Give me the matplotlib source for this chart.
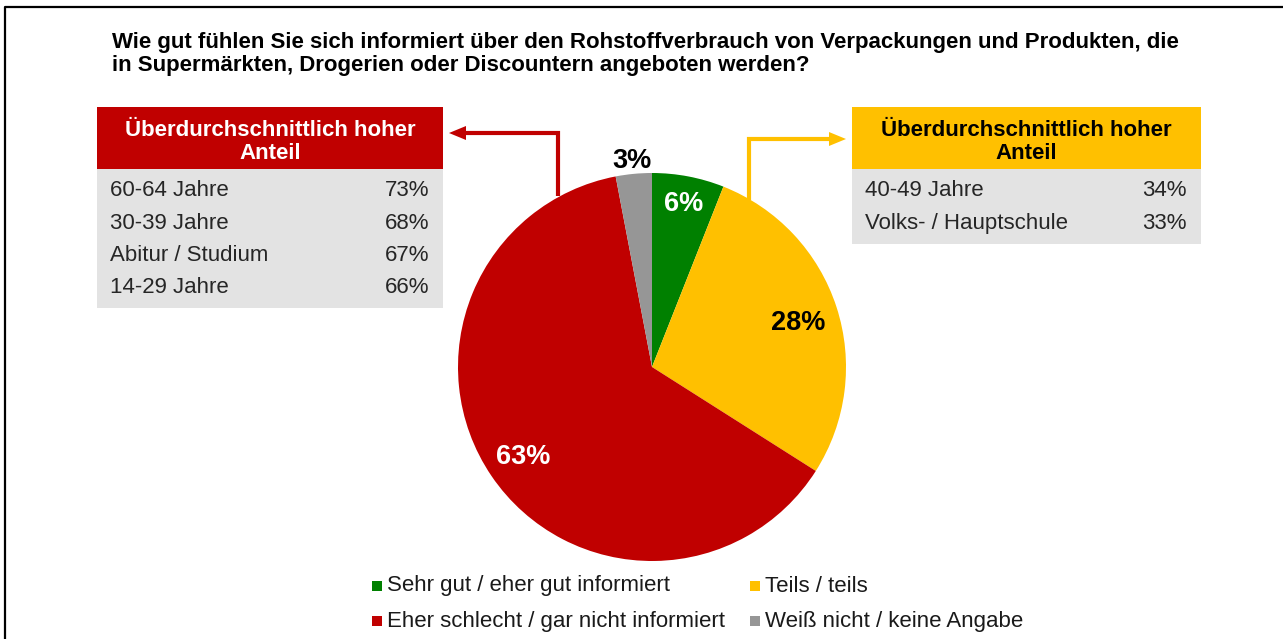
import numpy as np
import matplotlib.pyplot as plt
from matplotlib.patches import Rectangle

plt.rcParams['font.family'] = ['Liberation Sans', 'DejaVu Sans']

title = ('Wie gut fühlen Sie sich informiert über den Rohstoffverbrauch von Verpackungen und Produkten, die\n'
         'in Supermärkten, Drogerien oder Discountern angeboten werden?')

categories = ['Sehr gut / eher gut informiert', 'Teils / teils',
              'Eher schlecht / gar nicht informiert', 'Weiß nicht / keine Angabe']
values = [6, 28, 63, 3]
colors = ['#008000', '#FFC000', '#C00000', '#969696']
label_colors = ['white', 'black', 'white', 'black']
label_dist = [0.87, 0.79, 0.80, 1.08]

box_title = 'Überdurchschnittlich hoher\nAnteil'
left_rows = ['60-64 Jahre', '30-39 Jahre', 'Abitur / Studium', '14-29 Jahre']
left_vals = ['73%', '68%', '67%', '66%']
right_rows = ['40-49 Jahre', 'Volks- / Hauptschule']
right_vals = ['34%', '33%']

W, H = 1283, 639
fig = plt.figure(figsize=(W / 100, H / 100), dpi=100)
ax = fig.add_axes([0, 0, 1, 1])


def Y(py):
    return H - py


# pie
cx, cy, r = 652, Y(367), 194
wedges, _ = ax.pie(values, colors=colors, startangle=90, counterclock=False,
                   center=(cx, cy), radius=r, frame=True,
                   wedgeprops=dict(linewidth=0))
ax.set_xlim(0, W)
ax.set_ylim(0, H)
ax.set_aspect('auto')
ax.axis('off')

for w, v, c, d in zip(wedges, values, label_colors, label_dist):
    ang = np.deg2rad((w.theta1 + w.theta2) / 2)
    ax.text(cx + d * r * np.cos(ang), cy + d * r * np.sin(ang), f'{v}%',
            color=c, fontsize=19.5, fontweight='bold', ha='center', va='center_baseline')

# frame (only top and left visible)
ax.plot([4.5, 4.5, W], [0, Y(6.5), Y(6.5)], color='black', lw=1.6, solid_capstyle='butt')

ax.text(112, Y(32), title, fontsize=16, fontweight='bold', ha='left', va='top',
        linespacing=1.12)


def info_box(x0, x1, top, head_color, head_text_color, rows, vals):
    head_h = 62
    row_h = 32.3
    body_h = row_h * len(rows) + 10
    ax.add_patch(Rectangle((x0, Y(top + head_h)), x1 - x0, head_h,
                           facecolor=head_color, edgecolor='none'))
    ax.add_patch(Rectangle((x0, Y(top + head_h + body_h)), x1 - x0, body_h,
                           facecolor='#E3E3E3', edgecolor='none'))
    ax.text((x0 + x1) / 2, Y(top + head_h / 2 + 4), box_title, color=head_text_color,
            fontsize=16, fontweight='bold', ha='center', va='center', linespacing=1.12)
    for i, (lab, val) in enumerate(zip(rows, vals)):
        yy = Y(top + head_h + 22 + i * row_h)
        ax.text(x0 + 13, yy, lab, fontsize=16, color='#262626', ha='left', va='center')
        ax.text(x1 - 14, yy, val, fontsize=16, color='#262626', ha='right', va='center')


info_box(97, 443, 107, '#C00000', 'white', left_rows, left_vals)
info_box(852, 1201, 107, '#FFC000', 'black', right_rows, right_vals)

# connector arrows
ax.plot([558, 558, 462], [Y(196), Y(133), Y(133)], color='#C00000', lw=3,
        solid_joinstyle='miter', solid_capstyle='butt')
ax.fill([449, 466, 466], [Y(133), Y(126), Y(140)], color='#C00000', lw=0)
ax.plot([749, 749, 833], [Y(200), Y(139), Y(139)], color='#FFC000', lw=3,
        solid_joinstyle='miter', solid_capstyle='butt')
ax.fill([846, 829, 829], [Y(139), Y(132), Y(146)], color='#FFC000', lw=0)

# legend
leg_pos = [(372, 586), (750, 586), (372, 621), (750, 621)]
for (lx, ly), lab, col in zip(leg_pos, categories, colors):
    ax.add_patch(Rectangle((lx, Y(ly + 5)), 10, 10, facecolor=col, edgecolor='none'))
    ax.text(lx + 15, Y(ly), lab, fontsize=16, color='#1a1a1a', ha='left', va='center')

fig.savefig('out.png', dpi=100)
